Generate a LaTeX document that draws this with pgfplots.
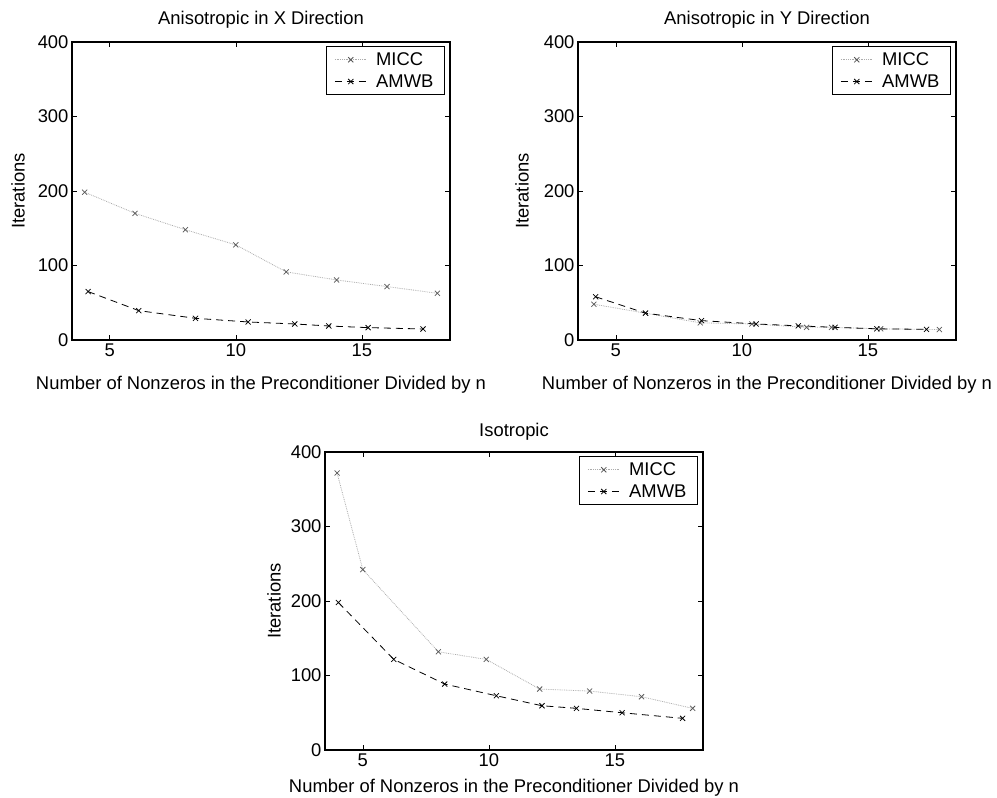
\documentclass[border=0pt]{standalone}
\usepackage{pgfplots}
\pgfplotsset{compat=1.18}
\usepackage{fontspec}
\setmainfont{Liberation Sans}

\pgfplotsset{
  myax/.style={
    scale only axis, width=378pt, height=298pt,
    anchor=south west,
    xmin=3.5, xmax=18.5, ymin=0, ymax=400,
    xtick={5,10,15}, ytick={0,100,200,300,400},
    tick align=inside, major tick length=5pt,
    axis line style={line width=1.2pt, black},
    tick style={line width=0.6pt, black},
    /pgf/number format/assume math mode=true,
    ylabel={Iterations},
    xlabel={Number of Nonzeros in the Preconditioner Divided by n},
    legend style={at={(1,1)}, anchor=north east, xshift=-5pt, yshift=-4pt,
      draw=black, line width=1.2pt, inner xsep=8pt, inner ysep=3pt,
      nodes={inner sep=3pt},
      cells={anchor=west}, row sep=1.5pt, column sep=6pt},
    legend image code/.code={\draw[##1, mark repeat=2, mark phase=2] plot coordinates {(0pt,0pt) (16pt,0pt) (32pt,0pt)};},
  },
  micc/.style={gray!65, densely dotted, line width=0.8pt, mark=x, mark size=3.6pt,
    mark options={solid, black!65, line width=0.75pt}},
  amwb/.style={black, dash pattern=on 7pt off 5pt, line width=0.8pt, mark=x, mark size=3.6pt,
    mark options={solid, black, line width=0.75pt}},
}

\begin{document}
\begin{tikzpicture}[font=\fontsize{18.4}{22}\selectfont]
\useasboundingbox (0pt,0pt) rectangle (997pt,798pt);

% Plot 1
\begin{axis}[myax, at={(72pt,458pt)},
  title={Anisotropic in X Direction},
  title style={at={(axis description cs:0.5,1.074)}, anchor=center, yshift=-6pt},
  xlabel style={at={(axis description cs:0.5,-0.151)}, anchor=center},
  ylabel style={at={(axis description cs:-0.143,0.5)}, anchor=center},
]
\addplot[micc] coordinates {(4,198.4) (6,170) (8,148) (10,127.7) (12,91.4) (14,80.6) (16,71.7) (18,62.7)};
\addlegendentry{MICC}
\addplot[amwb] coordinates {(4.14,65) (6.15,39.4) (8.4,29.1) (10.49,24.2) (12.34,21.5) (13.69,18.8) (15.25,16.6) (17.43,14.8)};
\addlegendentry{AMWB}
\end{axis}

% Plot 2
\begin{axis}[myax, at={(578pt,458pt)},
  title={Anisotropic in Y Direction},
  title style={at={(axis description cs:0.5,1.074)}, anchor=center, yshift=-6pt},
  xlabel style={at={(axis description cs:0.5,-0.151)}, anchor=center},
  ylabel style={at={(axis description cs:-0.148,0.5)}, anchor=center},
]
\addplot[micc] coordinates {(4.13,48) (6.18,36) (8.35,23) (10.4,21.5) (12.57,17) (13.56,17) (15.51,15) (17.84,14)};
\addlegendentry{MICC}
\addplot[amwb] coordinates {(4.2,58) (6.18,36) (8.4,26) (10.57,21.5) (12.24,19) (13.7,17) (15.36,15) (17.33,14.3)};
\addlegendentry{AMWB}
\end{axis}

% Plot 3
\begin{axis}[myax, at={(325pt,48pt)},
  title={Isotropic},
  title style={at={(axis description cs:0.5,1.067)}, anchor=center, yshift=-6pt},
  xlabel style={at={(axis description cs:0.5,-0.1275)}, anchor=center},
  ylabel style={at={(axis description cs:-0.135,0.5)}, anchor=center},
]
\addplot[micc] coordinates {(3.98,371.8) (5,242.2) (8,131.8) (9.9,121.6) (12.02,81.8) (14,79.1) (16.06,71.5) (18.09,55.9)};
\addlegendentry{MICC}
\addplot[amwb] coordinates {(4.03,198) (6.23,121.6) (8.25,88.5) (10.3,72.8) (12.11,59.4) (13.48,55.9) (15.29,50) (17.69,42.5)};
\addlegendentry{AMWB}
\end{axis}
\end{tikzpicture}
\end{document}
